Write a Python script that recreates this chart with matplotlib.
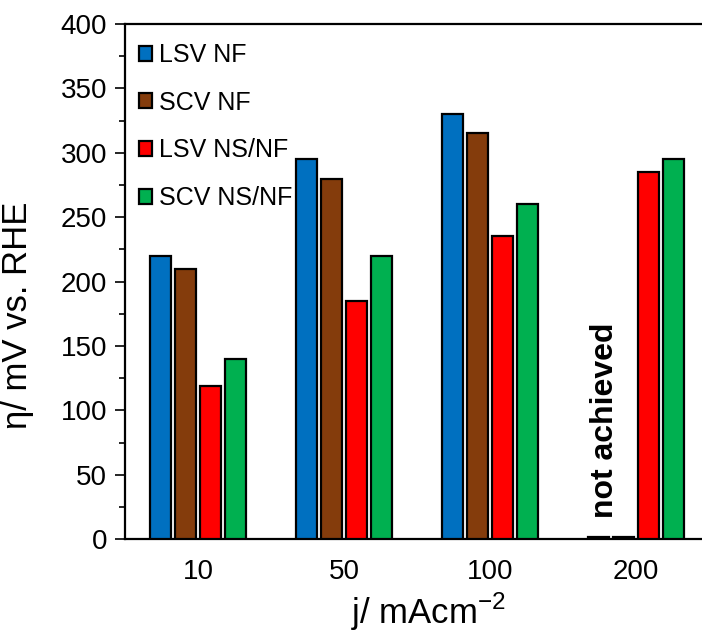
import numpy as np
import matplotlib
matplotlib.use('Agg')
import matplotlib.pyplot as plt

plt.rcParams['font.family'] = ['Liberation Sans', 'DejaVu Sans']

# data
categories = ['10', '50', '100', '200']
series_names = ['LSV NF', 'SCV NF', 'LSV NS/NF', 'SCV NS/NF']
lsv_nf = [220, 295, 330, 1.5]      # 200 mA/cm2 not achieved (drawn as a flat stub)
scv_nf = [210, 280, 315, 1.5]
lsv_nsnf = [119, 185, 235, 285]
scv_nsnf = [140, 220, 260, 295]
colors = ['#0070C0', '#843C0C', '#FF0000', '#00B050']

def make_chart():
    fig = plt.figure(figsize=(7.02, 6.32), dpi=100)
    # axes runs slightly past the right edge like the cropped original
    ax = fig.add_axes([0.178, 0.147, 0.832, 0.815])

    x = np.arange(len(categories))
    pitch = 0.172
    width = 0.14
    all_series = [lsv_nf, scv_nf, lsv_nsnf, scv_nsnf]
    for i, (vals, name, col) in enumerate(zip(all_series, series_names, colors)):
        offset = (i - 1.5) * pitch
        ax.bar(x + offset, vals, width, color=col, edgecolor='black',
               linewidth=1.6, label=name, zorder=3)

    ax.text(2.79, 92, 'not achieved', rotation=90, ha='center', va='center',
            fontsize=23, fontweight='bold')

    ax.set_xlim(-0.5, 3.5)
    ax.set_ylim(0, 400)
    ax.set_xticks(x)
    ax.set_xticklabels(categories)
    ax.set_yticks(np.arange(0, 401, 50))
    ax.set_yticks(np.arange(0, 401, 25), minor=True)
    ax.tick_params(axis='y', which='major', direction='out', length=7, width=1.2,
                   labelsize=20, pad=6)
    ax.tick_params(axis='y', which='minor', direction='out', length=4, width=1.2)
    ax.tick_params(axis='x', length=0, labelsize=20, pad=14)

    ax.set_ylabel('η/ mV vs. RHE', fontsize=25, labelpad=10)
    ax.yaxis.set_label_coords(-0.155, 0.435)
    ax.set_xlabel('j/ mAcm$^{\\mathregular{-2}}$', fontsize=25, labelpad=4)
    ax.xaxis.set_label_coords(0.52, -0.1)

    for side in ['left', 'top', 'bottom']:
        ax.spines[side].set_linewidth(1.6)
    ax.spines['right'].set_visible(False)

    ax.legend(loc='upper left', frameon=False, fontsize=18,
              handlelength=0.55, handleheight=0.55, handletextpad=0.25,
              labelspacing=0.95, borderaxespad=0.15, bbox_to_anchor=(0.0, 0.99))

    fig.savefig('out.png', dpi=100, facecolor='white')

if __name__ == '__main__':
    make_chart()
